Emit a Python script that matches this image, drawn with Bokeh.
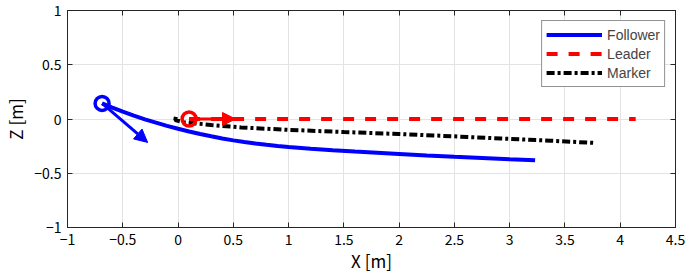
from bokeh.plotting import figure
from bokeh.models import Range1d, LinearAxis, Legend, LegendItem, Arrow, NormalHead, FixedTicker
from bokeh.embed import file_html
from bokeh.resources import INLINE

# data
follower_x = [-0.687, -0.6, -0.5, -0.4, -0.3, -0.2, -0.1, 0.0, 0.1, 0.2, 0.3, 0.4, 0.5, 0.6, 0.7,
              0.8, 0.9, 1.0, 1.2, 1.4, 1.6, 1.8, 2.0, 2.25, 2.5, 2.75, 3.0, 3.23]
follower_z = [0.144, 0.108, 0.068, 0.031, -0.003, -0.034, -0.063, -0.090, -0.115, -0.138, -0.159,
              -0.179, -0.197, -0.212, -0.225, -0.237, -0.248, -0.258, -0.274, -0.288, -0.300,
              -0.311, -0.322, -0.336, -0.349, -0.360, -0.371, -0.380]
leader_x = [0.1, 4.14]
leader_z = [0.0, 0.0]
marker_x = [-0.02, -0.025, 0.05, 0.3, 0.57, 1.0, 1.5, 2.0, 2.5, 2.92, 3.37, 3.76]
marker_z = [0.02, -0.01, -0.03, -0.055, -0.078, -0.1, -0.12, -0.138, -0.16, -0.18, -0.2, -0.22]
follower_arrow = [-0.687, 0.144, -0.275, -0.216]
leader_arrow = [0.1, 0.0, 0.52, 0.0]
x_ticks = [-1, -0.5, 0, 0.5, 1, 1.5, 2, 2.5, 3, 3.5, 4, 4.5]
y_ticks = [-1, -0.5, 0, 0.5, 1]

FONT = "Noto Sans CJK JP"
FS = "14px"
AXC = "#262626"

def lab(v):
    s = ("%g" % v)
    return s.replace("-", "\u2212")

p = figure(width=685, height=276, output_backend="svg", toolbar_location=None,
           x_range=Range1d(-1, 4.5), y_range=Range1d(-1, 1),
           min_border_left=66, min_border_right=10, min_border_top=10, min_border_bottom=49)

p.outline_line_color = AXC
p.outline_line_width = 1
p.background_fill_color = "white"
p.border_fill_color = "white"

for ax, ticks in ((p.xaxis[0], x_ticks), (p.yaxis[0], y_ticks)):
    ax.ticker = FixedTicker(ticks=ticks)
    ax.major_label_overrides = {t: lab(t) for t in ticks}
    ax.major_tick_in = 5
    ax.major_tick_out = 0
    ax.minor_tick_line_color = None
    ax.axis_line_color = AXC
    ax.major_tick_line_color = AXC
    ax.major_label_text_font = FONT
    ax.major_label_text_font_size = FS
    ax.major_label_text_color = "black"
    ax.axis_label_text_font = FONT
    ax.axis_label_text_font_size = "17px"
    ax.axis_label_text_font_style = "normal"
    ax.axis_label_text_color = "black"

p.xaxis[0].axis_label = "X [m]"
p.yaxis[0].axis_label = "Z [m]"
p.xaxis[0].major_label_standoff = 6
p.xaxis[0].axis_label_standoff = 0
p.yaxis[0].major_label_standoff = 6
p.yaxis[0].axis_label_standoff = 3

for loc, ticks in (("above", x_ticks), ("right", y_ticks)):
    extra = LinearAxis(ticker=FixedTicker(ticks=ticks), major_tick_in=5, major_tick_out=0,
                       minor_tick_line_color=None, axis_line_color=AXC, major_tick_line_color=AXC,
                       major_label_text_color=None, major_label_text_font_size="1px",
                       major_label_standoff=0)
    p.add_layout(extra, loc)

p.grid.grid_line_color = "#e3e3e3"
p.grid.grid_line_width = 1
p.xgrid.ticker = FixedTicker(ticks=x_ticks)
p.ygrid.ticker = FixedTicker(ticks=y_ticks)

r_f = p.line(follower_x, follower_z, line_color="#0000ff", line_width=4)
r_l = p.line(leader_x, leader_z, line_color="#ff0000", line_width=4, line_dash="11 11")
r_m = p.line(marker_x, marker_z, line_color="black", line_width=4, line_dash="8 3 3 3")

p.add_layout(Arrow(x_start=follower_arrow[0], y_start=follower_arrow[1],
                   x_end=follower_arrow[2], y_end=follower_arrow[3],
                   line_color="#0000ff", line_width=3,
                   end=NormalHead(size=13, fill_color="#0000ff", line_color="#0000ff", line_width=1)))
p.add_layout(Arrow(x_start=leader_arrow[0], y_start=leader_arrow[1],
                   x_end=leader_arrow[2], y_end=leader_arrow[3],
                   line_color="#ff0000", line_width=3,
                   end=NormalHead(size=13, fill_color="#ff0000", line_color="#ff0000", line_width=1)))

p.scatter([follower_x[0]], [follower_z[0]], marker="circle", size=14, fill_color=None,
          line_color="#0000ff", line_width=3.5)
p.scatter([leader_x[0]], [leader_z[0]], marker="circle", size=14, fill_color=None,
          line_color="#ff0000", line_width=3.5)

legend = Legend(items=[LegendItem(label="Follower", renderers=[r_f]),
                       LegendItem(label="Leader", renderers=[r_l]),
                       LegendItem(label="Marker", renderers=[r_m])],
                location="top_right")
legend.border_line_color = AXC
legend.border_line_width = 1
legend.background_fill_color = "white"
legend.background_fill_alpha = 1
legend.label_text_font = "Liberation Sans"
legend.label_text_font_size = FS
legend.glyph_width = 56
legend.glyph_height = 19
legend.label_height = 19
legend.spacing = 0
legend.padding = 4
legend.margin = 10
legend.label_standoff = 5
p.add_layout(legend)

open("out.html", "w").write(file_html(p, INLINE))
